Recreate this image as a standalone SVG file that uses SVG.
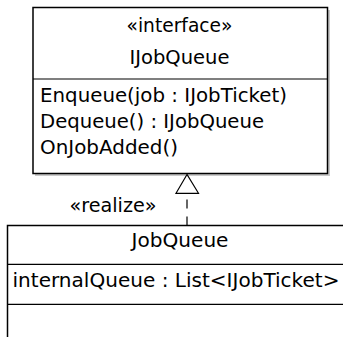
<svg xmlns="http://www.w3.org/2000/svg" width="343" height="337" viewBox="0 0 343 337">
<defs>
<style>
.box{fill:#fff;stroke:#000;stroke-width:1.5}
.shadow{fill:#888;opacity:0.45}
.div{stroke:#000;stroke-width:1.2}
text{font-family:"DejaVu Sans","Liberation Sans",sans-serif;font-size:19px;fill:#000}
.c{text-anchor:middle}
</style>
</defs>
<g id="IJobQueue">
<rect class="shadow" x="35" y="10" width="295" height="166"/>
<rect class="box" x="33" y="7.5" width="294.5" height="166"/>
<line class="div" x1="33" y1="79" x2="327.5" y2="79"/>
<text class="c" x="179.5" y="31.5" textLength="106" lengthAdjust="spacingAndGlyphs">«interface»</text>
<text class="c" x="179.5" y="63.5" textLength="100" lengthAdjust="spacingAndGlyphs">IJobQueue</text>
<text x="40" y="102" textLength="247" lengthAdjust="spacingAndGlyphs">Enqueue(job : IJobTicket)</text>
<text x="40" y="128" textLength="224" lengthAdjust="spacingAndGlyphs">Dequeue() : IJobQueue</text>
<text x="40" y="154" textLength="138" lengthAdjust="spacingAndGlyphs">OnJobAdded()</text>
</g>
<g id="JobQueue">
<rect class="box" x="7.5" y="225.5" width="345" height="130"/>
<line class="div" x1="7.5" y1="264.3" x2="343" y2="264.3"/>
<line class="div" x1="7.5" y1="304.3" x2="343" y2="304.3"/>
<text class="c" x="180" y="247" textLength="97" lengthAdjust="spacingAndGlyphs">JobQueue</text>
<text x="12.5" y="287" textLength="327" lengthAdjust="spacingAndGlyphs">internalQueue : List&lt;IJobTicket&gt;</text>
</g>
<g id="connectors">
<line x1="187" y1="225.5" x2="187" y2="193.3" stroke="#000" stroke-width="1.2" stroke-dasharray="9,8"/>
<polygon points="187,174.5 176,193.3 198.5,193.3" fill="#fff" stroke="#000" stroke-width="1.2"/>
<text class="c" x="113" y="212" textLength="87" lengthAdjust="spacingAndGlyphs">«realize»</text>
</g>
</svg>
